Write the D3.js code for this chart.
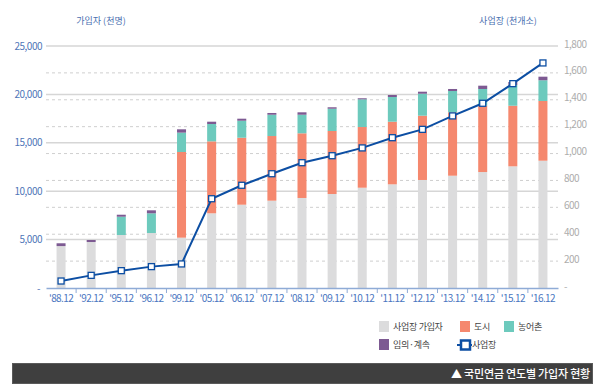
<!DOCTYPE html>
<html><head><meta charset="utf-8">
<script src="https://cdn.jsdelivr.net/npm/d3@7"></script>
<style>
body{margin:0;background:#fff;font-family:"Noto Sans CJK KR","Noto Sans",sans-serif;}
svg{display:block}
</style></head>
<body><svg id="c" width="600" height="391"></svg>
<script>
const categories = ["'88.12","'92.12","'95.12","'96.12","'99.12","'05.12","'06.12","'07.12","'08.12","'09.12","'10.12","'11.12","'12.12","'13.12","'14.12","'15.12","'16.12"];
const workplaceMembers = [4330,4750,5475,5680,5200,7715,8605,9020,9300,9710,10360,10710,11160,11600,11980,12570,13150];
const urban            = [0,0,0,0,8850,7435,6920,6680,6680,6510,6270,6470,6640,6550,6850,6260,6170];
const rural            = [0,0,1890,2035,2000,1790,1755,2200,1920,2300,2860,2550,2270,2200,1730,2140,2140];
const voluntary        = [290,210,205,310,345,240,210,180,250,150,110,210,210,210,340,310,370];
const workplaces       = [52,94,129,159,179,664,764,850,932,984,1042,1118,1180,1280,1374,1520,1674];
const leftTicks = [0,5000,10000,15000,20000,25000];
const rightTicks = [0,200,400,600,800,1000,1200,1400,1600,1800];
const seriesNames = ["사업장 가입자","도시","농어촌","임의·계속"];
const seriesColors = ["#dcdcdd","#f5886e","#6dcabd","#7d5a92"];
const lineName = "사업장";
const leftTitle = "가입자 (천명)";
const rightTitle = "사업장 (천개소)";
const footerText = "▲ 국민연금 연도별 가입자 현황";

const svg = d3.select("#c");
const x = d3.scaleBand().domain(categories).range([46,558]);
const yL = d3.scaleLinear().domain([0,25000]).range([288,46]);
const yR = d3.scaleLinear().domain([0,1800]).range([288,46]);
const blue = "#0c4ea3";

// dashed right grid
svg.append("g").selectAll("line").data(rightTicks.filter(d=>d>0 && d<1800)).join("line")
  .attr("x1",46).attr("x2",558).attr("y1",d=>yR(d)).attr("y2",d=>yR(d))
  .attr("stroke","#cfcfcf").attr("stroke-width",1).attr("stroke-dasharray","3,3");
// solid left grid
svg.append("g").selectAll("line").data(leftTicks.filter(d=>d>0)).join("line")
  .attr("x1",46).attr("x2",558).attr("y1",d=>yL(d)).attr("y2",d=>yL(d))
  .attr("stroke","#d6d6d6").attr("stroke-width",1.5);

// stacked bars
const rows = categories.map((c,i)=>({cat:c, s0:workplaceMembers[i], s1:urban[i], s2:rural[i], s3:voluntary[i]}));
const stack = d3.stack().keys(["s0","s1","s2","s3"])(rows);
const bw = 9;
svg.append("g").selectAll("g").data(stack).join("g")
  .attr("fill",(d,i)=>seriesColors[i])
  .selectAll("rect").data(d=>d).join("rect")
  .attr("x",d=>x(d.data.cat)+x.bandwidth()/2-bw/2)
  .attr("width",bw)
  .attr("y",d=>yL(d[1]))
  .attr("height",d=>Math.max(0,yL(d[0])-yL(d[1])));

// bottom axis
const ax = svg.append("g").attr("transform","translate(0,288)")
  .call(d3.axisBottom(x).tickSize(0).tickPadding(7));
ax.select(".domain").attr("stroke","#8fabd6").attr("stroke-width",1.5);
ax.selectAll("text").attr("fill","#4a76bf").attr("font-size","10px").attr("letter-spacing","-0.6px")
  .attr("font-family","'Noto Sans CJK KR',sans-serif");
svg.append("g").selectAll("line").data(categories.slice(1)).join("line")
  .attr("x1",d=>x(d)).attr("x2",d=>x(d)).attr("y1",288).attr("y2",293)
  .attr("stroke","#8fabd6").attr("stroke-width",1);

// left axis labels
const fmt = d3.format(",");
svg.append("g").selectAll("text").data(leftTicks).join("text")
  .attr("x",d=>d===0?40:42).attr("y",d=>yL(d)).attr("dy","0.35em")
  .attr("text-anchor","end").attr("fill","#4f76b8").attr("font-size","10px").attr("letter-spacing","-0.5px")
  .text(d=>d===0?"-":fmt(d));
// right axis labels
svg.append("g").selectAll("text").data(rightTicks).join("text")
  .attr("x",564).attr("y",d=>yR(d)-2).attr("dy","0.35em")
  .attr("text-anchor","start").attr("fill","#adadad").attr("font-size","10px").attr("letter-spacing","-0.5px")
  .text(d=>d===0?"-":fmt(d));

// titles
svg.append("text").attr("x",101).attr("y",24).attr("text-anchor","middle")
  .attr("fill","#4a70b0").attr("font-size","9px").text(leftTitle);
svg.append("text").attr("x",508).attr("y",24).attr("text-anchor","middle")
  .attr("fill","#4a70b0").attr("font-size","9px").text(rightTitle);

// line
const lineGen = d3.line().x((d,i)=>x(categories[i])+x.bandwidth()/2).y(d=>yR(d));
svg.append("path").datum(workplaces).attr("d",lineGen)
  .attr("fill","none").attr("stroke",blue).attr("stroke-width",2);
svg.append("g").selectAll("rect").data(workplaces).join("rect")
  .attr("x",(d,i)=>x(categories[i])+x.bandwidth()/2-3).attr("y",d=>yR(d)-3)
  .attr("width",6).attr("height",6).attr("fill","#fff").attr("stroke",blue).attr("stroke-width",1.3);

// legend
const leg = svg.append("g").attr("font-size","9px").attr("letter-spacing","-0.3px").attr("fill","#444");
const legItems = [
  {t:seriesNames[0], c:seriesColors[0], x:379, y:321},
  {t:seriesNames[1], c:seriesColors[1], x:460, y:321},
  {t:seriesNames[2], c:seriesColors[2], x:504, y:321},
  {t:seriesNames[3], c:seriesColors[3], x:379, y:339}
];
legItems.forEach(d=>{
  leg.append("rect").attr("x",d.x).attr("y",d.y).attr("width",10).attr("height",11).attr("fill",d.c);
  leg.append("text").attr("x",d.x+14).attr("y",d.y+5.5).attr("dy","0.35em").attr("fill","#444").text(d.t);
});
leg.append("line").attr("x1",457).attr("x2",472).attr("y1",345).attr("y2",345).attr("stroke",blue).attr("stroke-width",2);
leg.append("rect").attr("x",461).attr("y",340.5).attr("width",9).attr("height",9).attr("fill","#fff").attr("stroke",blue).attr("stroke-width",2.5);
leg.append("text").attr("x",472).attr("y",345).attr("dy","0.35em").attr("fill","#444").text(lineName);

// footer
svg.append("rect").attr("x",12.5).attr("y",363.5).attr("width",580).attr("height",20)
  .attr("fill","#3f3f3f").attr("stroke","#5a5a5a").attr("stroke-width",1);
svg.append("text").attr("x",590).attr("y",374).attr("dy","0.35em").attr("text-anchor","end")
  .attr("fill","#fff").attr("font-size","11px").attr("font-weight","500").attr("letter-spacing","-0.2px").text(footerText);
</script></body></html>
